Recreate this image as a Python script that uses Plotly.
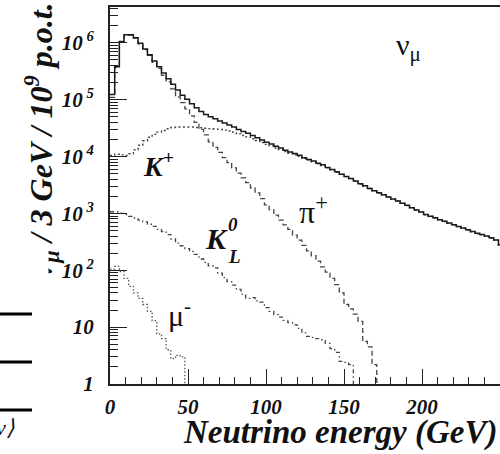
import plotly.graph_objects as go

# ---------------- data (3 GeV bins starting at 0 GeV) ----------------
BIN_WIDTH = 3.0  # GeV per bin

total = [1.23e5, 3.8e5, 1.05e6, 1.38e6, 1.38e6, 1.23e6, 9.8e5, 7.8e5, 6.2e5, 4.8e5,
         3.8e5, 2.95e5, 2.34e5, 1.86e5, 1.48e5, 1.20e5, 1.02e5, 8.5e4, 7.2e4, 6.2e4,
         5.5e4, 5.0e4, 4.6e4, 4.2e4, 3.9e4, 3.6e4, 3.3e4, 3.0e4, 2.75e4, 2.57e4,
         2.34e4, 2.14e4, 1.95e4, 1.78e4, 1.66e4, 1.51e4, 1.41e4, 1.29e4, 1.20e4, 1.13e4,
         1.05e4, 9550, 8900, 8350, 7600, 7150, 6450, 5900, 5400, 4900,
         4470, 4100, 3700, 3310, 3050, 2750, 2510, 2300, 2120, 1950,
         1790, 1660, 1510, 1390, 1260, 1150, 1060, 955, 890, 835,
         775, 725, 680, 630, 590, 555, 515, 480, 450, 425,
         400, 372, 340, 280]

pion_plus = [1.10e5, 3.7e5, 1.04e6, 1.37e6, 1.37e6, 1.21e6, 9.6e5, 7.6e5, 6.0e5, 4.55e5,
             3.55e5, 2.68e5, 2.05e5, 1.55e5, 1.12e5, 8.9e4, 6.9e4, 5.2e4, 4.0e4, 3.0e4,
             2.4e4, 1.82e4, 1.45e4, 1.18e4, 9600, 7800, 6300, 5100, 4200, 3470,
             2820, 2290, 1820, 1410, 1170, 930, 760, 630, 525, 415,
             340, 275, 220, 180, 145, 115, 93, 72, 56, 40,
             25, 21, 17, 12.6, 5.6, 4.5, 2.2]

kaon_plus = [1.05e4, 1.10e4, 1.07e4, 1.05e4, 1.12e4, 1.32e4, 1.58e4, 1.90e4, 2.19e4, 2.45e4,
             2.69e4, 2.88e4, 3.09e4, 3.24e4, 3.30e4, 3.30e4, 3.30e4, 3.30e4, 3.25e4, 3.20e4,
             3.15e4, 3.10e4, 3.05e4, 3.00e4, 2.92e4, 2.82e4, 2.70e4, 2.50e4, 2.35e4, 2.22e4,
             2.06e4, 1.91e4, 1.77e4, 1.64e4, 1.54e4, 1.41e4, 1.33e4, 1.22e4, 1.14e4, 1.07e4,
             1.01e4, 9250, 8670, 8110, 7450, 6980, 6350, 5820, 5310, 4850,
             4440, 4045, 3700, 3295, 3010, 2740, 2500, 2280, 2130, 1940,
             1770, 1650, 1500, 1370, 1250, 1140, 1045, 950, 885, 825,
             775, 720, 670, 625, 585, 545, 510, 475, 440, 420,
             395, 365, 335, 275]

kaon_long = [1070, 1070, 1000, 955, 890, 830, 760, 710, 645, 590,
             525, 480, 425, 355, 300, 270, 240, 214, 190, 158,
             138, 120, 110, 89, 74, 63, 55, 46, 38, 32,
             33, 29, 27.5, 22, 19, 16.6, 15, 13.2, 12, 11,
             9.5, 7.9, 6.9, 6.6, 6.3, 6.0, 5.2, 4.2, 3.6, 2.5,
             2.4, 2.2]

muon_minus = [105, 117, 95, 72, 52, 40, 32, 25, 19, 13, 7.6, 6.3, 4.0, 2.8, 3.2, 3.0]

x_tickvals = [0, 50, 100, 150, 200]
x_ticktext = ["0", "50", "100", "150", "200"]
y_tickvals = [1, 10, 100, 1e3, 1e4, 1e5, 1e6]
y_ticktext = ["1", "10", "10<sup> 2</sup>", "10<sup> 3</sup>", "10<sup> 4</sup>",
              "10<sup> 5</sup>", "10<sup> 6</sup>"]

X_RANGE = [0, 250]
Y_RANGE_LOG = [0, 6.63]
FLOOR = 0.1  # empty bin (below the visible axis)

W, H = 500, 454
ML, MR, MT, MB = 110, 0, 7, 70
PW, PH = W - ML - MR, H - MT - MB


def steps(values):
    xs = [i * BIN_WIDTH for i in range(len(values) + 1)]
    ys = list(values) + [FLOOR]
    return xs, ys


def px(xp):
    return (xp - ML) / PW


def py(yp):
    return (H - MB - yp) / PH


def bold_italic(s):
    return "<b><i>" + s + "</i></b>"


SERIF = "Liberation Serif"
fig = go.Figure()

series = [
    (kaon_long, "K0L", "#444", "4px,3px,1.5px,3px", 1.3),
    (muon_minus, "mu-", "#555", "1.5px,2px", 1.3),
    (kaon_plus, "K+", "#444", "2px,2.5px", 1.4),
    (pion_plus, "pi+", "#444", "5px,3px", 1.3),
    (total, "total", "#1a1a1a", "solid", 1.5),
]
for vals, name, col, dash, w in series:
    xs, ys = steps(vals)
    fig.add_trace(go.Scatter(x=xs, y=ys, mode="lines", name=name,
                             line=dict(shape="hv", color=col, dash=dash, width=w),
                             showlegend=False, hoverinfo="skip"))

minor_y = [k * 10 ** d for d in range(0, 7) for k in range(2, 10)]
tickfont = dict(family=SERIF, size=21, color="#111")

fig.update_layout(
    width=W, height=H,
    margin=dict(l=ML, r=MR, t=MT, b=MB, pad=0),
    paper_bgcolor="white", plot_bgcolor="white",
    xaxis=dict(range=X_RANGE, tickvals=x_tickvals,
               ticktext=[bold_italic(t) for t in x_ticktext],
               ticks="inside", ticklen=15, tickwidth=1.3, tickcolor="#222",
               minor=dict(ticks="inside", ticklen=7, dtick=10, tick0=0, tickcolor="#222", tickwidth=1),
               showline=True, linewidth=2, linecolor="#222", mirror=True,
               showgrid=False, zeroline=False, ticklabelstandoff=3, tickfont=tickfont),
    yaxis=dict(type="log", range=Y_RANGE_LOG, tickvals=y_tickvals,
               ticktext=[bold_italic(t) for t in y_ticktext],
               ticks="inside", ticklen=17, tickwidth=1.3, tickcolor="#222",
               minor=dict(ticks="inside", ticklen=8, tickvals=minor_y, tickcolor="#222", tickwidth=1),
               showline=True, linewidth=2, linecolor="#222",
               showgrid=False, zeroline=False, ticklabelstandoff=10, tickfont=tickfont),
)

rg = dict(family=SERIF, color="#111")


def ann(text, xp, yp, size, xanchor="center", yanchor="middle", **kw):
    fig.add_annotation(text=text, x=px(xp), y=py(yp), xref="paper", yref="paper",
                       xanchor=xanchor, yanchor=yanchor, showarrow=False,
                       font=dict(size=size, **rg), **kw)


# axis titles
ann(bold_italic("Neutrino energy (GeV)"), 499, 432, 33, xanchor="right")
ann(bold_italic("ν<sub>μ</sub> / 3 GeV / 10<sup>9</sup> p.o.t."), 42, 140, 32, textangle=-90)

# white region of the cropped page (hides the start of the y title)
fig.add_annotation(text=" ", x=px(-5), y=py(250), xref="paper", yref="paper",
                   xanchor="left", yanchor="top", showarrow=False, width=52, height=58,
                   bgcolor="white", borderpad=0, font=dict(size=10))

# curve labels
ann("ν<sub>μ</sub>", 408, 47, 30)
ann(bold_italic("K<sup>+</sup>"), 158, 164, 28)
ann("π<sup>+</sup>", 313, 210, 32)
ann(bold_italic("K"), 216, 238, 30)
ann(bold_italic("0"), 233, 224, 19)
ann(bold_italic("L"), 234, 256, 19)
ann("μ<sup>-</sup>", 179, 313, 30)

# fragments of the neighbouring page on the left
for yl in [314, 362, 410]:
    fig.add_shape(type="line", xref="paper", yref="paper", x0=px(-2), x1=px(32),
                  y0=py(yl), y1=py(yl), line=dict(color="black", width=3))
ann("<i>ν⟩</i>", 17, 428, 22, xanchor="right")

fig.write_html("out.html", config={"displayModeBar": False},
               post_script="document.body.style.margin='0';")
